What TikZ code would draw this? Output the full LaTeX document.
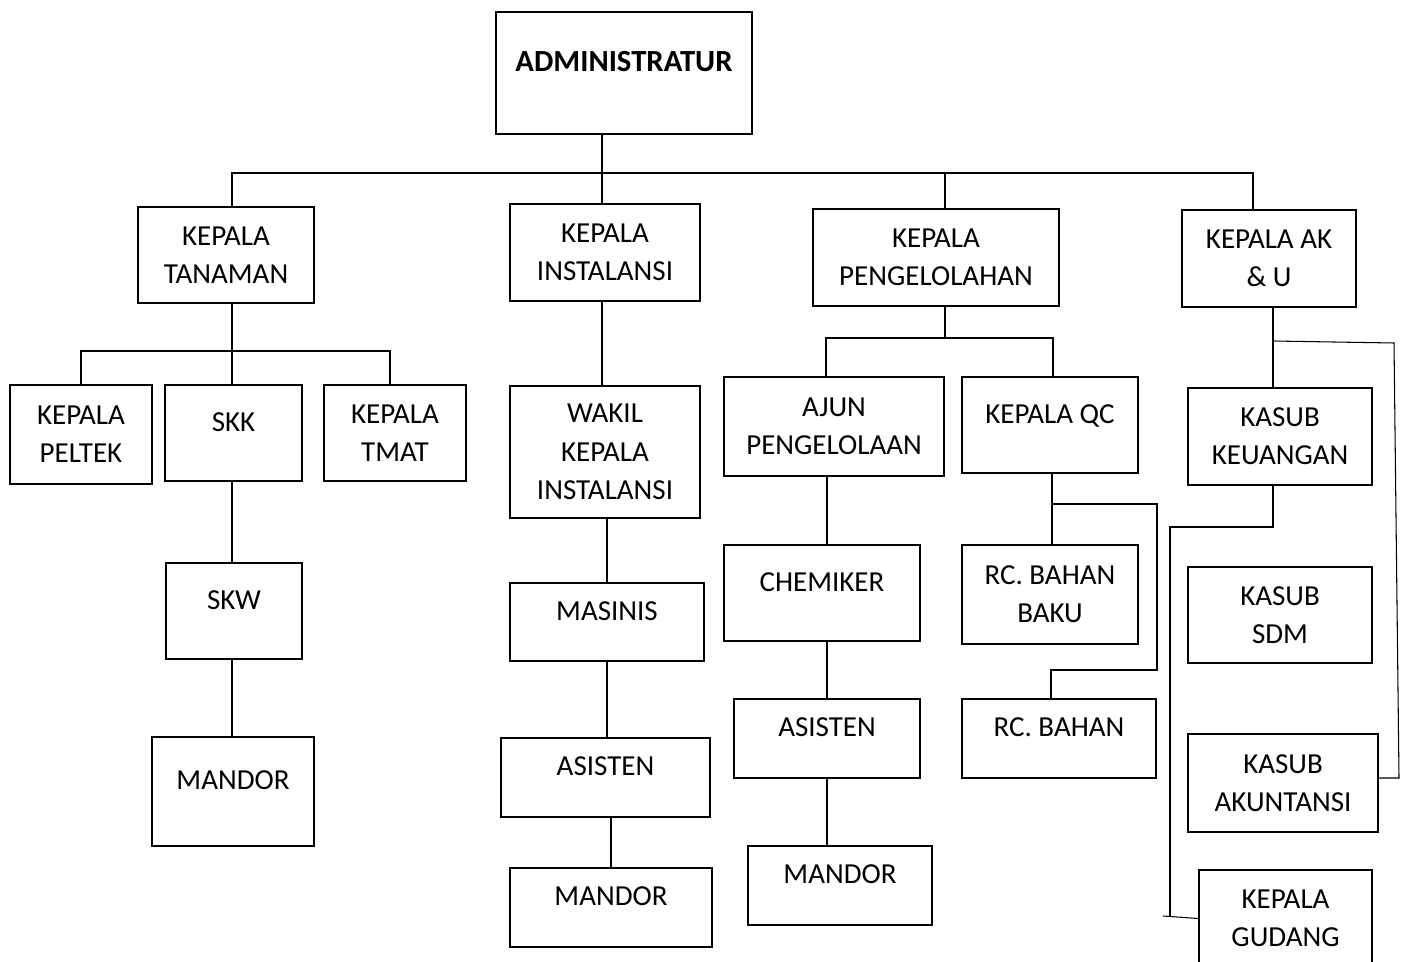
\documentclass[tikz,border=0pt]{standalone}
\usepackage{fontspec}
\setmainfont{Carlito}
\usetikzlibrary{positioning}

\tikzset{
  box/.style 2 args={draw, line width=1.2pt, minimum width=#1*0.02cm,
    minimum height=#2*0.02cm, align=center, inner sep=0pt},
  oneline/.style={text depth=0.45cm},
  link/.style={line width=1.2pt},
  thinlink/.style={line width=0.6pt},
}

\begin{document}
\begin{tikzpicture}[x=0.02cm, y=-0.02cm,
    every node/.style={font=\fontsize{16.5}{21.8}\selectfont}]
    % Page frame
    \clip (0,0) rectangle (1406,962);

    % Top level
    \node[box={256}{122}, oneline] (admin) at (624,73)
        {\fontsize{17.5}{21.8}\selectfont\textbf{ADMINISTRATUR}};
    \node[box={176}{96}] (tan) at (226,255) {KEPALA\\TANAMAN};
    \node[box={190}{97}] (ins) at (605,252.5) {KEPALA\\INSTALANSI};
    \node[box={246}{97}] (peng) at (936,257.5) {KEPALA\\PENGELOLAHAN};
    \node[box={174}{97}] (ak) at (1269,258.5) {KEPALA AK\\\& U};

    % Tanaman branch
    \node[box={142}{99}] (peltek) at (81,434.5) {KEPALA\\PELTEK};
    \node[box={137}{96}, oneline] (skk) at (233.5,433) {SKK};
    \node[box={142}{96}] (tmat) at (395,433) {KEPALA\\TMAT};
    \node[box={136}{96}, oneline] (skw) at (234,611) {SKW};
    \node[box={162}{109}, oneline] (mandorA) at (233,791.5) {MANDOR};

    % Instalansi branch
    \node[box={190}{132}] (wakil) at (605,452) {WAKIL\\KEPALA\\INSTALANSI};
    \node[box={194}{78}, oneline] (masinis) at (607,622) {MASINIS};
    \node[box={209}{79}, oneline] (asistenA) at (605.5,777.5) {ASISTEN};
    \node[box={202}{79}, oneline] (mandorB) at (611,907.5) {MANDOR};

    % Pengelolahan branch
    \node[box={220}{99}] (ajun) at (834,426.5) {AJUN\\PENGELOLAAN};
    \node[box={196}{96}, oneline] (chem) at (822,593) {CHEMIKER};
    \node[box={186}{79}, oneline] (asistenB) at (827,738.5) {ASISTEN};
    \node[box={184}{79}, oneline] (mandorC) at (840,885.5) {MANDOR};
    \node[box={176}{96}, oneline] (qc) at (1050,425) {KEPALA QC};
    \node[box={176}{99}] (rcbb) at (1050,594.5) {RC. BAHAN\\BAKU};
    \node[box={194}{79}, oneline] (rcb) at (1059,738.5) {RC. BAHAN};

    % AK & U branch
    \node[box={184}{97}] (keu) at (1280,436.5) {KASUB\\KEUANGAN};
    \node[box={184}{96}] (sdm) at (1280,615) {KASUB\\SDM};
    \node[box={190}{98}] (akun) at (1283,783) {KASUB\\AKUNTANSI};
    \node[box={173}{97}] (gud) at (1285.5,918.5) {KEPALA\\GUDANG};

    % Top bus
    \coordinate (b0) at (602,173);
    \coordinate (b1) at (232,173);
    \coordinate (b2) at (945,173);
    \coordinate (b3) at (1253,173);
    \draw[link] (b0 |- admin.south) -- (b0 |- ins.north);
    \draw[link] (b1 |- tan.north) -- (b1) -- (b3) -- (b3 |- ak.north);
    \draw[link] (b2) -- (b2 |- peng.north);

    % Tanaman links
    \coordinate (t0) at (232,351);
    \coordinate (t1) at (81,351);
    \coordinate (t2) at (390,351);
    \draw[link] (t0 |- tan.south) -- (t0 |- skk.north);
    \draw[link] (t1 |- peltek.north) -- (t1) -- (t2) -- (t2 |- tmat.north);
    \draw[link] (t0 |- skk.south) -- (t0 |- skw.north);
    \draw[link] (t0 |- skw.south) -- (t0 |- mandorA.north);

    % Instalansi links
    \draw[link] (b0 |- ins.south) -- (b0 |- wakil.north);
    \draw[link] (masinis.north |- wakil.south) -- (masinis.north);
    \draw[link] (masinis.south) -- (masinis.south |- asistenA.north);
    \draw[link] (mandorB.north |- asistenA.south) -- (mandorB.north);

    % Pengelolahan links
    \coordinate (p0) at (945,338);
    \coordinate (p1) at (826,338);
    \coordinate (p2) at (1053,338);
    \draw[link] (p0 |- peng.south) -- (p0);
    \draw[link] (p1 |- ajun.north) -- (p1) -- (p2) -- (p2 |- qc.north);
    \draw[link] (asistenB.north |- ajun.south) -- (asistenB.north |- chem.north);
    \draw[link] (asistenB.north |- chem.south) -- (asistenB.north);
    \draw[link] (asistenB.south) -- (asistenB.south |- mandorC.north);

    % QC links
    \coordinate (q0) at (1052,504);
    \coordinate (q1) at (1157,504);
    \coordinate (q2) at (1157,670);
    \coordinate (q3) at (1051,670);
    \draw[link] (q0 |- qc.south) -- (q0 |- rcbb.north);
    \draw[link] (q0) -- (q1) -- (q2) -- (q3) -- (q3 |- rcb.north);

    % AK & U links
    \coordinate (k0) at (1273,341);
    \coordinate (k1) at (1394,343);
    \coordinate (k2) at (1399,778);
    \coordinate (k3) at (1273,527);
    \coordinate (k4) at (1170,527);
    \coordinate (k5) at (1170,917);
    \coordinate (k6) at (1163,916);
    \draw[link] (k0 |- ak.south) -- (k0 |- keu.north);
    \draw[thinlink] (k0) -- (k1) -- (k2) -- (k2 -| akun.east);
    \draw[link] (k3 |- keu.south) -- (k3) -- (k4) -- (k5);
    \draw[thinlink] (k6) -- (gud.west);
\end{tikzpicture}
\end{document}
